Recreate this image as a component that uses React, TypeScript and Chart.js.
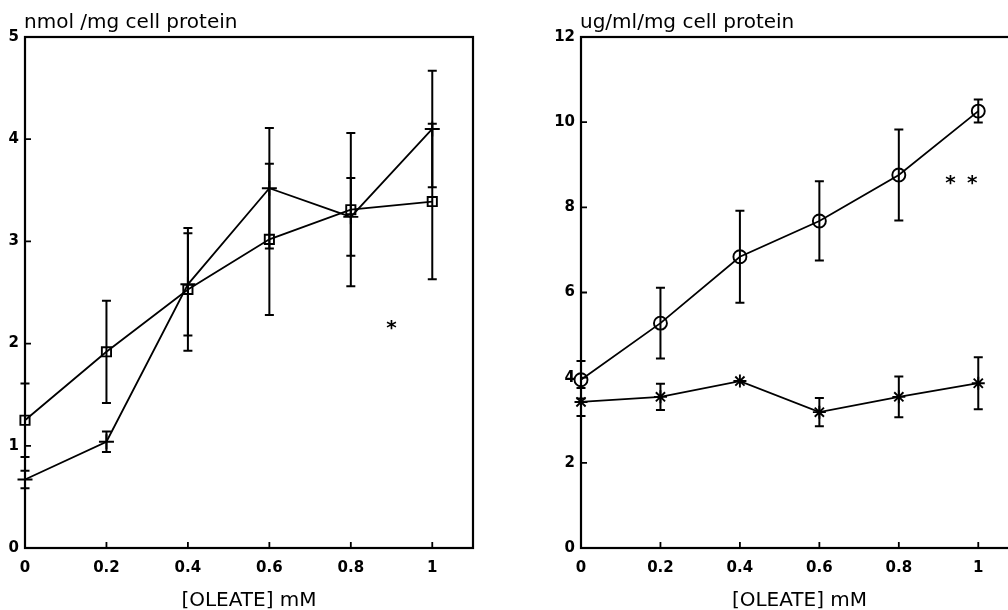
import React, { useEffect, useRef } from "react";
import { Chart, registerables } from "chart.js";

Chart.register(...registerables);

// ---- data ----
const oleate = [0, 0.2, 0.4, 0.6, 0.8, 1];
const xTicks = [0, 0.2, 0.4, 0.6, 0.8, 1];
const xTickLabels = ["0", "0.2", "0.4", "0.6", "0.8", "1"];
const leftYTicks = [0, 1, 2, 3, 4, 5];
const rightYTicks = [0, 2, 4, 6, 8, 10, 12];

const leftSquare = [1.25, 1.92, 2.53, 3.02, 3.31, 3.39];
const leftSquareErr = [0.36, 0.5, 0.6, 0.74, 0.75, 0.76];
const leftCross = [0.67, 1.04, 2.58, 3.52, 3.24, 4.1];
const leftCrossErr = [0.085, 0.1, 0.5, 0.59, 0.38, 0.57];

const rightCircle = [3.95, 5.28, 6.84, 7.68, 8.76, 10.26];
const rightCircleErr = [0.44, 0.83, 1.08, 0.93, 1.07, 0.27];
const rightStar = [3.43, 3.55, 3.92, 3.19, 3.55, 3.87];
const rightStarErr = [0.33, 0.31, 0, 0.33, 0.48, 0.61];

const leftMarkX = [0.9];
const leftMarkY = [2.2];
const rightMarkX = [0.93, 0.985];
const rightMarkY = [8.69, 8.69];

const leftTitle = "nmol /mg cell protein";
const rightTitle = "ug/ml/mg cell protein";
const xTitle = "[OLEATE] mM";

const FONT = "'DejaVu Sans', sans-serif";

type PanelCfg = {
  yMax: number;
  yTicks: number[];
  yWidth: number;
  padRight: number;
  title: string;
  marksX: number[];
  marksY: number[];
  datasets: any[];
};

function series(vals: number[], errs: number[], style: string, radius: number) {
  return {
    data: oleate.map((x, i) => ({ x, y: vals[i] })),
    errors: errs,
    borderColor: "#000",
    borderWidth: 1.8,
    pointStyle: style,
    pointRadius: radius,
    pointBorderWidth: 1.9,
    pointBorderColor: "#000",
    pointBackgroundColor: "rgba(0,0,0,0)",
    fill: false,
    tension: 0,
    clip: false,
  };
}

function makeConfig(p: PanelCfg): any {
  const paper = {
    id: "paper",
    beforeDatasetsDraw(chart: any) {
      const ctx = chart.ctx;
      const { left, right, top, bottom } = chart.chartArea;
      const xs = chart.scales.x;
      const ys = chart.scales.y;
      ctx.save();
      ctx.strokeStyle = "#000";
      ctx.lineWidth = 2.2;
      ctx.strokeRect(left, top, right - left, bottom - top);
      ctx.lineWidth = 1.8;
      ctx.beginPath();
      xTicks.forEach((v) => {
        const px = xs.getPixelForValue(v);
        ctx.moveTo(px, bottom);
        ctx.lineTo(px, bottom - 6);
      });
      p.yTicks.forEach((v) => {
        const py = ys.getPixelForValue(v);
        ctx.moveTo(left, py);
        ctx.lineTo(left + 6, py);
      });
      ctx.stroke();
      ctx.restore();
    },
    afterDatasetsDraw(chart: any) {
      const ctx = chart.ctx;
      const { left, right } = chart.chartArea;
      const xs = chart.scales.x;
      const ys = chart.scales.y;
      ctx.save();
      ctx.strokeStyle = "#000";
      ctx.lineWidth = 2;
      chart.data.datasets.forEach((ds: any) => {
        ds.data.forEach((pt: any, i: number) => {
          const e = ds.errors[i];
          if (!e) return;
          const px = xs.getPixelForValue(pt.x);
          const y1 = ys.getPixelForValue(pt.y + e);
          const y2 = ys.getPixelForValue(pt.y - e);
          ctx.beginPath();
          ctx.moveTo(px, y1);
          ctx.lineTo(px, y2);
          ctx.moveTo(px - 4.5, y1);
          ctx.lineTo(px + 4.5, y1);
          ctx.moveTo(px - 4.5, y2);
          ctx.lineTo(px + 4.5, y2);
          ctx.stroke();
        });
      });
      // significance marks
      ctx.fillStyle = "#000";
      ctx.font = `bold 20px ${FONT}`;
      ctx.textAlign = "center";
      ctx.textBaseline = "alphabetic";
      p.marksX.forEach((mx, i) => {
        const px = xs.getPixelForValue(mx);
        const py = ys.getPixelForValue(p.marksY[i]);
        ctx.fillText("*", px, py + 11);
      });
      // titles
      ctx.font = `20px ${FONT}`;
      ctx.textAlign = "left";
      ctx.fillText(p.title, left - 1, 28);
      ctx.textAlign = "center";
      ctx.fillText(xTitle, (left + right) / 2, 606);
      ctx.restore();
    },
  };

  return {
    type: "line",
    data: { datasets: p.datasets },
    plugins: [paper],
    options: {
      animation: false,
      responsive: false,
      layout: { padding: { top: 37, right: p.padRight, bottom: 0, left: 0 } },
      plugins: { legend: { display: false }, tooltip: { enabled: false } },
      scales: {
        x: {
          type: "linear",
          min: 0,
          max: 1.1,
          grid: { display: false, drawTicks: false },
          border: { display: false },
          afterBuildTicks: (s: any) => {
            s.ticks = xTicks.map((v) => ({ value: v }));
          },
          afterFit: (s: any) => {
            s.height = 62;
          },
          ticks: {
            padding: 11,
            color: "#000",
            font: { family: FONT, size: 15, weight: "bold" },
            maxRotation: 0,
            autoSkip: false,
            callback: (v: number) => {
              const i = xTicks.indexOf(v);
              return i >= 0 ? xTickLabels[i] : "";
            },
          },
        },
        y: {
          type: "linear",
          min: 0,
          max: p.yMax,
          grid: { display: false, drawTicks: false },
          border: { display: false },
          afterBuildTicks: (s: any) => {
            s.ticks = p.yTicks.map((v) => ({ value: v }));
          },
          afterFit: (s: any) => {
            s.width = p.yWidth;
          },
          ticks: {
            padding: 6,
            color: "#000",
            font: { family: FONT, size: 15, weight: "bold" },
            autoSkip: false,
            callback: (v: number) => String(v),
          },
        },
      },
    },
  };
}

function Panel(props: { cfg: PanelCfg; left: number; width: number }) {
  const ref = useRef<HTMLCanvasElement | null>(null);
  useEffect(() => {
    if (!ref.current) return;
    const chart = new Chart(ref.current, makeConfig(props.cfg));
    return () => chart.destroy();
  }, []);
  return (
    <canvas
      ref={ref}
      width={props.width}
      height={610}
      style={{ position: "absolute", left: props.left, top: 0 }}
    />
  );
}

const leftCfg: PanelCfg = {
  yMax: 5,
  yTicks: leftYTicks,
  yWidth: 25,
  padRight: 17,
  title: leftTitle,
  marksX: leftMarkX,
  marksY: leftMarkY,
  datasets: [
    series(leftCross, leftCrossErr, "cross", 7.5),
    series(leftSquare, leftSquareErr, "rect", 6.5),
  ],
};

const rightCfg: PanelCfg = {
  yMax: 12,
  yTicks: rightYTicks,
  yWidth: 41,
  padRight: 22,
  title: rightTitle,
  marksX: rightMarkX,
  marksY: rightMarkY,
  datasets: [
    series(rightCircle, rightCircleErr, "circle", 6.5),
    series(rightStar, rightStarErr, "star", 6.5),
  ],
};

export default function App() {
  return (
    <div
      style={{
        position: "fixed",
        left: 0,
        top: 0,
        width: 1008,
        height: 610,
        overflow: "hidden",
        background: "#fff",
      }}
    >
      <Panel cfg={leftCfg} left={0} width={490} />
      <Panel cfg={rightCfg} left={540} width={500} />
    </div>
  );
}
